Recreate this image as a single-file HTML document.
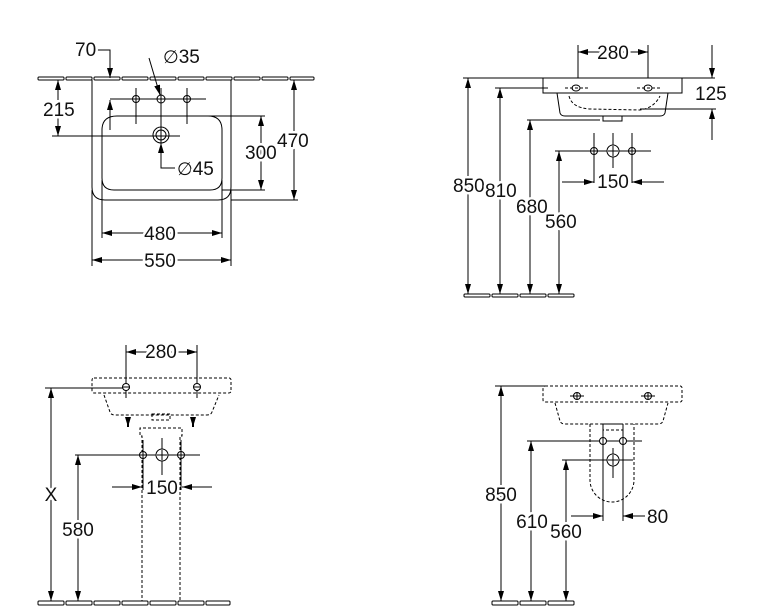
<!DOCTYPE html>
<html><head><meta charset="utf-8"><style>
html,body{margin:0;padding:0;background:#fff;}
svg{display:block;}
text{font-family:"Liberation Sans",sans-serif;font-size:19px;fill:#111;paint-order:stroke;stroke:#fff;stroke-width:5px;stroke-linejoin:round;}
.d{font-family:"DejaVu Sans",sans-serif;font-size:18px;}
</style></head><body>
<svg width="758" height="611" viewBox="0 0 758 611" xmlns="http://www.w3.org/2000/svg">
<defs>
<marker id="a" viewBox="0 0 10 6" refX="10" refY="3" markerWidth="10" markerHeight="6" markerUnits="userSpaceOnUse" orient="auto"><path d="M0,0L10,3L0,6z" fill="#000"/></marker>
</defs>
<g stroke="#000" stroke-width="1" fill="none">
<!-- ===== TOP LEFT ===== -->
<g fill="#fff">
<rect x="38" y="77" width="26" height="3" rx="1"/><rect x="66" y="77" width="26" height="3" rx="1"/><rect x="94" y="77" width="26" height="3" rx="1"/><rect x="122" y="77" width="26" height="3" rx="1"/><rect x="150" y="77" width="26" height="3" rx="1"/><rect x="178" y="77" width="26" height="3" rx="1"/><rect x="206" y="77" width="26" height="3" rx="1"/><rect x="234" y="77" width="26" height="3" rx="1"/><rect x="262" y="77" width="26" height="3" rx="1"/><rect x="290" y="77" width="24" height="3" rx="1"/>
</g>
<path d="M92,80V187Q92,200 105,200H218Q231,200 231,187V80"/>
<path d="M102,130Q102,116 117,116H208Q222,116 222,130V178Q222,190 210,190H114Q102,190 102,178Z"/>
<line x1="110" y1="99" x2="206" y2="99"/>
<line x1="136" y1="88" x2="136" y2="124"/><line x1="187" y1="88" x2="187" y2="124"/>
<circle cx="136" cy="99" r="3.5"/><circle cx="161" cy="99" r="4"/><circle cx="187" cy="99" r="3.5"/>
<line x1="161" y1="88" x2="161" y2="160"/>
<circle cx="161" cy="135" r="8"/><circle cx="161" cy="135" r="5"/>
<line x1="52" y1="136" x2="180" y2="136"/>
<path d="M97,50H110V78" marker-end="url(#a)"/>
<line x1="110" y1="130" x2="110" y2="100" marker-end="url(#a)"/>
<line x1="58" y1="100" x2="58" y2="80" marker-end="url(#a)"/>
<line x1="58" y1="115" x2="58" y2="136" marker-end="url(#a)"/>
<line x1="149" y1="58" x2="160" y2="95" marker-end="url(#a)"/>
<path d="M175,168H161V143" marker-end="url(#a)"/>
<line x1="175" y1="116" x2="265" y2="116"/><line x1="222" y1="190" x2="265" y2="190"/>
<line x1="261" y1="150" x2="261" y2="116" marker-end="url(#a)"/><line x1="261" y1="150" x2="261" y2="190" marker-end="url(#a)"/>
<line x1="231" y1="200" x2="298" y2="200"/>
<line x1="294" y1="140" x2="294" y2="80" marker-end="url(#a)"/><line x1="294" y1="140" x2="294" y2="200" marker-end="url(#a)"/>
<line x1="92" y1="190" x2="92" y2="266"/><line x1="231" y1="190" x2="231" y2="266"/>
<line x1="102" y1="180" x2="102" y2="238"/><line x1="222" y1="180" x2="222" y2="238"/>
<line x1="160" y1="233" x2="102" y2="233" marker-end="url(#a)"/><line x1="160" y1="233" x2="222" y2="233" marker-end="url(#a)"/>
<line x1="160" y1="260" x2="92" y2="260" marker-end="url(#a)"/><line x1="160" y1="260" x2="231" y2="260" marker-end="url(#a)"/>

<!-- ===== TOP RIGHT ===== -->
<line x1="578" y1="45" x2="578" y2="92"/><line x1="648" y1="45" x2="648" y2="92"/>
<line x1="612" y1="52" x2="578" y2="52" marker-end="url(#a)"/><line x1="612" y1="52" x2="648" y2="52" marker-end="url(#a)"/>
<line x1="463" y1="78" x2="715" y2="78"/>
<path d="M543,78H682V93H543Z" fill="#fff"/>
<path d="M557,93L560,113Q561,116 565,116H660Q664,116 665,113L668,93"/>
<path d="M569,96Q572,108 590,109L640,110Q654,108 660,96" stroke-dasharray="3,2"/>
<rect x="603" y="116" width="19" height="5"/>
<ellipse cx="576" cy="88" rx="4" ry="3"/><ellipse cx="648" cy="88" rx="4" ry="3"/>
<line x1="565" y1="88" x2="588" y2="88" stroke-dasharray="3,2"/><line x1="637" y1="88" x2="660" y2="88" stroke-dasharray="3,2"/>
<line x1="712" y1="45" x2="712" y2="78" marker-end="url(#a)"/>
<line x1="712" y1="140" x2="712" y2="109" marker-end="url(#a)"/>
<line x1="640" y1="109" x2="716" y2="109"/>
<line x1="495" y1="88" x2="548" y2="88"/>
<line x1="527" y1="120" x2="600" y2="120"/>
<line x1="555" y1="151" x2="651" y2="151"/>
<line x1="594" y1="133" x2="594" y2="183"/><line x1="632" y1="133" x2="632" y2="183"/><line x1="613" y1="133" x2="613" y2="168"/>
<circle cx="594" cy="151" r="3.5" fill="#fff"/><circle cx="613" cy="151" r="6" fill="#fff"/><circle cx="632" cy="151" r="3.5" fill="#fff"/>
<path d="M594,148V154M591,151H597M613,146V156M608,151H618M632,148V154M629,151H635"/>
<line x1="562" y1="182" x2="594" y2="182" marker-end="url(#a)"/><line x1="664" y1="182" x2="632" y2="182" marker-end="url(#a)"/>
<line x1="468" y1="180" x2="468" y2="78" marker-end="url(#a)"/><line x1="468" y1="180" x2="468" y2="294" marker-end="url(#a)"/>
<line x1="500" y1="180" x2="500" y2="88" marker-end="url(#a)"/><line x1="500" y1="180" x2="500" y2="294" marker-end="url(#a)"/>
<line x1="530" y1="200" x2="530" y2="120" marker-end="url(#a)"/><line x1="530" y1="200" x2="530" y2="294" marker-end="url(#a)"/>
<line x1="559" y1="215" x2="559" y2="151" marker-end="url(#a)"/><line x1="559" y1="215" x2="559" y2="294" marker-end="url(#a)"/>
<g fill="#fff"><rect x="464" y="294" width="26" height="3" rx="1"/><rect x="492" y="294" width="26" height="3" rx="1"/><rect x="520" y="294" width="26" height="3" rx="1"/><rect x="548" y="294" width="26" height="3" rx="1"/></g>

<!-- ===== BOTTOM LEFT ===== -->
<line x1="126" y1="345" x2="126" y2="398"/><line x1="197" y1="345" x2="197" y2="398"/>
<line x1="160" y1="352" x2="126" y2="352" marker-end="url(#a)"/><line x1="160" y1="352" x2="197" y2="352" marker-end="url(#a)"/>
<g stroke-dasharray="3,2">
<rect x="92" y="378" width="139" height="15" rx="2"/>
<path d="M104,395L110,412Q111,415 115,415H207Q211,415 212,412L219,395"/>
<rect x="152" y="414" width="18" height="6"/>
<path d="M142,603V436H140V428H182V436H180V603"/>
</g>
<line x1="45" y1="388" x2="130" y2="388"/>
<circle cx="126" cy="387" r="3.5" fill="#fff"/><circle cx="197" cy="387" r="3.5" fill="#fff"/>
<path d="M123,387H129M194,387H200"/>
<line x1="128" y1="418" x2="128" y2="427" stroke-width="2" marker-end="url(#a)"/>
<line x1="193" y1="418" x2="193" y2="427" stroke-width="2" marker-end="url(#a)"/>
<line x1="75" y1="455" x2="200" y2="455"/>
<line x1="143" y1="440" x2="143" y2="490"/><line x1="181" y1="440" x2="181" y2="490"/><line x1="162" y1="438" x2="162" y2="475"/>
<circle cx="143" cy="455" r="3.5" fill="#fff"/><circle cx="162" cy="455" r="6" fill="#fff"/><circle cx="181" cy="455" r="3.5" fill="#fff"/>
<path d="M143,452V458M140,455H146M162,450V460M157,455H167M181,452V458M178,455H184"/>
<line x1="112" y1="487" x2="142" y2="487" marker-end="url(#a)"/><line x1="212" y1="487" x2="182" y2="487" marker-end="url(#a)"/>
<line x1="51" y1="480" x2="51" y2="388" marker-end="url(#a)"/><line x1="51" y1="480" x2="51" y2="601" marker-end="url(#a)"/>
<line x1="78" y1="520" x2="78" y2="455" marker-end="url(#a)"/><line x1="78" y1="520" x2="78" y2="601" marker-end="url(#a)"/>
<g fill="#fff"><rect x="38" y="601" width="26" height="4" rx="1"/><rect x="66" y="601" width="26" height="4" rx="1"/><rect x="94" y="601" width="26" height="4" rx="1"/><rect x="122" y="601" width="26" height="4" rx="1"/><rect x="150" y="601" width="26" height="4" rx="1"/><rect x="178" y="601" width="26" height="4" rx="1"/><rect x="206" y="601" width="24" height="4" rx="1"/></g>

<!-- ===== BOTTOM RIGHT ===== -->
<line x1="495" y1="386" x2="546" y2="386"/>
<g stroke-dasharray="3,2">
<rect x="543" y="386" width="139" height="16" rx="2"/>
<path d="M555,403L560,421Q561,424 565,424H658Q662,424 663,421L668,403"/>
<path d="M590,424V480A22,22 0 0 0 634,480V424"/>
<rect x="603" y="424" width="20" height="6"/>
</g>
<circle cx="577" cy="396" r="3.5" fill="#fff"/><circle cx="648" cy="396" r="3.5" fill="#fff"/>
<path d="M570,396H584M641,396H655M577,393V399M648,393V399"/>
<line x1="603" y1="424" x2="603" y2="521"/><line x1="623" y1="424" x2="623" y2="521"/>
<line x1="527" y1="441" x2="642" y2="441"/>
<line x1="562" y1="460" x2="633" y2="460"/>
<line x1="613" y1="448" x2="613" y2="478"/>
<circle cx="603" cy="441" r="3.5" fill="#fff"/><circle cx="623" cy="441" r="3.5" fill="#fff"/><circle cx="613" cy="460" r="6" fill="#fff"/>
<path d="M603,438V444M623,438V444M613,455V465M608,460H618"/>
<line x1="571" y1="516" x2="603" y2="516" marker-end="url(#a)"/><line x1="645" y1="516" x2="623" y2="516" marker-end="url(#a)"/>
<line x1="501" y1="480" x2="501" y2="386" marker-end="url(#a)"/><line x1="501" y1="480" x2="501" y2="601" marker-end="url(#a)"/>
<line x1="531" y1="510" x2="531" y2="441" marker-end="url(#a)"/><line x1="531" y1="510" x2="531" y2="601" marker-end="url(#a)"/>
<line x1="566" y1="520" x2="566" y2="460" marker-end="url(#a)"/><line x1="566" y1="520" x2="566" y2="601" marker-end="url(#a)"/>
<g fill="#fff"><rect x="492" y="601" width="26" height="4" rx="1"/><rect x="520" y="601" width="26" height="4" rx="1"/><rect x="548" y="601" width="26" height="4" rx="1"/></g>
</g>

<!-- Texts -->
<text x="75" y="56">70</text>
<text x="163" y="63"><tspan class="d">∅</tspan>35</text>
<text x="43" y="116">215</text>
<text x="177" y="175"><tspan class="d">∅</tspan>45</text>
<text x="245" y="159">300</text>
<text x="277" y="147">470</text>
<text x="160" y="240" text-anchor="middle">480</text>
<text x="160" y="267" text-anchor="middle">550</text>

<text x="613" y="59" text-anchor="middle">280</text>
<text x="695" y="100">125</text>
<text x="453" y="192">850</text>
<text x="485" y="197">810</text>
<text x="516" y="213">680</text>
<text x="545" y="228">560</text>
<text x="613" y="188" text-anchor="middle">150</text>

<text x="161" y="358" text-anchor="middle">280</text>
<text x="51" y="501" text-anchor="middle">X</text>
<text x="78" y="536" text-anchor="middle">580</text>
<text x="162" y="494" text-anchor="middle">150</text>

<text x="501" y="501" text-anchor="middle">850</text>
<text x="532" y="528" text-anchor="middle">610</text>
<text x="566" y="538" text-anchor="middle">560</text>
<text x="647" y="523">80</text>
</svg>
</body></html>
